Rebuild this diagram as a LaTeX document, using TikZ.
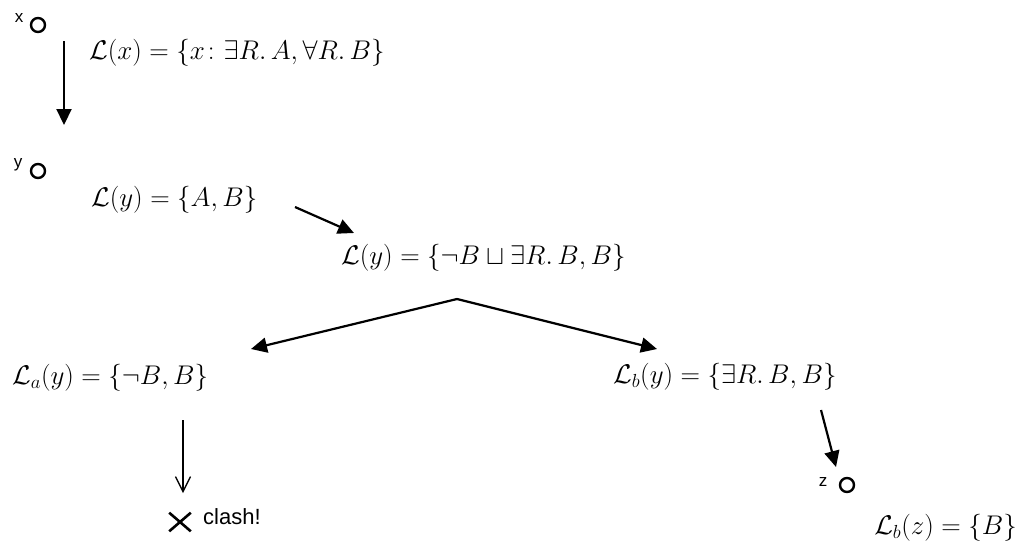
\RequirePackage{fix-cm}
\documentclass[tikz,border=0pt]{standalone}
\usepackage{amsmath}
\usepackage{amssymb}
\usepackage{fontspec}
\usetikzlibrary{arrows.meta,shapes.misc}
\newfontfamily\labelfont{Liberation Sans}

\begin{document}
\begin{tikzpicture}[x=1pt,y=-1pt, every node/.style={inner sep=0pt}]
  \tikzset{
    vertex/.style={circle, draw, line width=2.4pt, minimum size=14pt},
    vname/.style={font=\labelfont\fontsize{17}{20}\selectfont},
    lbl/.style={anchor=west, font=\fontsize{27}{32}\selectfont},
    arr/.style={line width=2.2pt, -{Triangle[length=16pt,width=15pt]}},
    thinarr/.style={line width=1.3pt, -{Straight Barb[length=15pt,width=15pt]}},
    clashmark/.style={cross out, draw, line width=2.6pt, minimum width=19pt, minimum height=16pt}
  }

  % keep the page the size of the reference
  \path[use as bounding box] (0,0) rectangle (1019,542);

  % individuals
  \node[vertex] (nx) at (38,25) {};
  \node[vname] (vx) at (19,18) {x};
  \node[vertex] (ny) at (38,171) {};
  \node[vname] (vy) at (18,165) {y};
  \node[vertex] (nz) at (847,485) {};
  \node[vname] (vz) at (823,482) {z};

  % node labels
  \node[lbl] (labx) at (89,53) {$\mathcal{L}(x) = \{x\colon \exists R.\,A, \forall R.\,B\}$};
  \node[lbl] (laby) at (91,200) {$\mathcal{L}(y) = \{A, B\}$};
  \node[lbl] (labor) at (341,258) {$\mathcal{L}(y) = \{\neg B \sqcup \exists R.\,B, B\}$};
  \node[lbl] (laba) at (12,378) {$\mathcal{L}_a(y) = \{\neg B, B\}$};
  \node[lbl] (labb) at (613,377) {$\mathcal{L}_b(y) = \{\exists R.\,B, B\}$};
  \node[lbl, anchor=east] (labz) at (1017,528) {$\mathcal{L}_b(z) = \{B\}$};

  % clash
  \node[clashmark] (cross) at (180,522) {};
  \node[anchor=west, font=\labelfont\fontsize{22}{26}\selectfont] (clash) at (203,517) {clash!};

  % arrow ends
  \coordinate (xtop) at (64,41);
  \coordinate (ytop) at (64,125);
  \coordinate (ortail) at (295,207);
  \coordinate (orhead) at (354,233);
  \coordinate (fork) at (457,299);
  \coordinate (ahead) at (251,349);
  \coordinate (bhead) at (657,349);
  \coordinate (atail) at (183,420);
  \coordinate (ahit) at (183,493);
  \coordinate (btail) at (821,410);
  \coordinate (zhead) at (836,467);

  % edges
  \draw[arr] (xtop) -- (ytop);
  \draw[arr] (ortail) -- (orhead);
  \draw[arr] (fork) -- (ahead);
  \draw[arr] (fork) -- (bhead);
  \draw[thinarr] (atail) -- (ahit);
  \draw[arr] (btail) -- (zhead);

\end{tikzpicture}
\end{document}
